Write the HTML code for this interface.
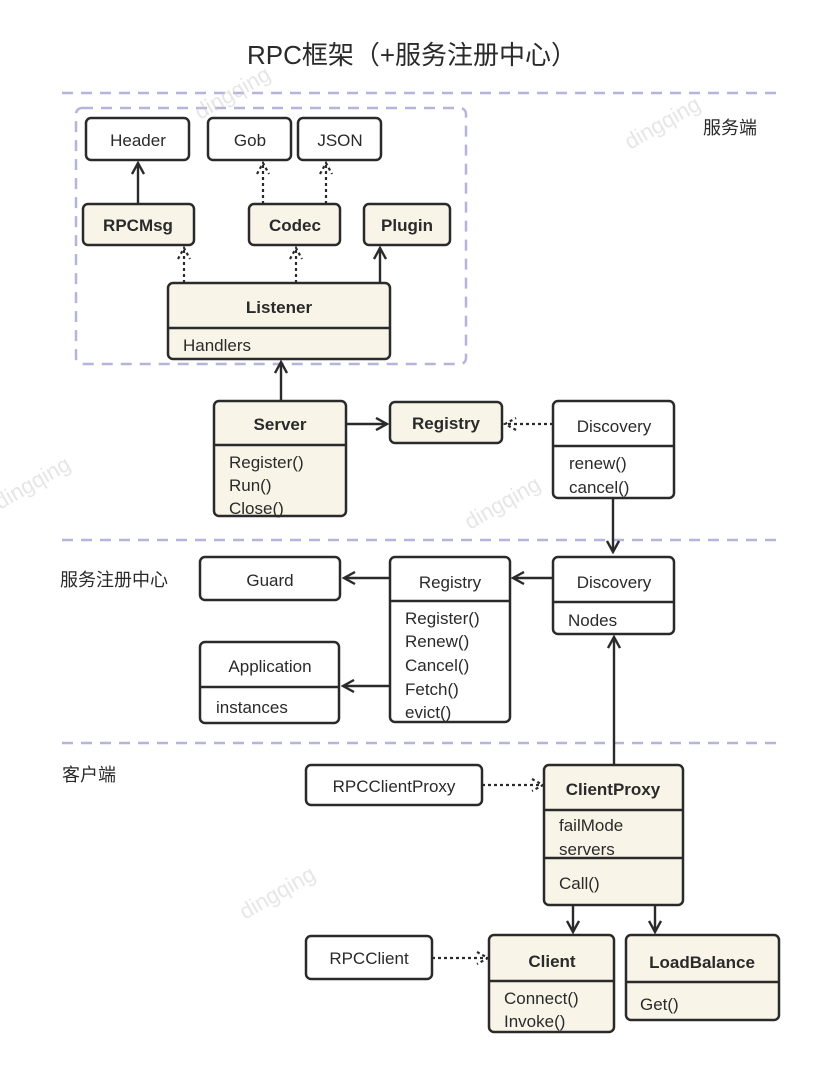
<!DOCTYPE html>
<html><head><meta charset="utf-8"><style>
html,body{margin:0;padding:0;background:#fff;width:824px;height:1071px;overflow:hidden}
svg text{font-family:"Liberation Sans","Noto Sans CJK SC",sans-serif;fill:#2a2a2a}
</style></head><body>
<svg width="824" height="1071" viewBox="0 0 824 1071" xmlns="http://www.w3.org/2000/svg">
<defs>
<marker id="a" markerWidth="14" markerHeight="14" refX="12" refY="7" orient="auto" markerUnits="userSpaceOnUse">
<path d="M1,1 L12,7 L1,13" fill="none" stroke="#2a2a2a" stroke-width="2.4"/></marker>
<marker id="d" markerWidth="14" markerHeight="14" refX="12" refY="7" orient="auto" markerUnits="userSpaceOnUse">
<path d="M1,1 L12,7 L1,13" fill="none" stroke="#2a2a2a" stroke-width="2.2" stroke-dasharray="3,3"/></marker>
</defs>
<text x="412" y="64" font-size="26" text-anchor="middle">RPC框架（+服务注册中心）</text>
<g stroke="#b6b4da" stroke-width="2.5" stroke-dasharray="11,8" fill="none">
<line x1="62" y1="93" x2="780" y2="93"/>
<line x1="62" y1="540" x2="780" y2="540"/>
<line x1="62" y1="743" x2="780" y2="743"/>
<rect x="76" y="108" width="390" height="256" rx="6"/>
</g>
<text x="703" y="134" font-size="18">服务端</text>
<text x="60" y="586" font-size="18">服务注册中心</text>
<text x="62" y="781" font-size="18">客户端</text>
<g stroke="#2a2a2a" stroke-width="2.5">
<rect x="86" y="118" width="103" height="42" rx="5" fill="#fff"/>
<rect x="208" y="118" width="83" height="42" rx="5" fill="#fff"/>
<rect x="298" y="118" width="83" height="42" rx="5" fill="#fff"/>
<rect x="83" y="204" width="111" height="41" rx="5" fill="#f8f5e8"/>
<rect x="249" y="204" width="91" height="41" rx="5" fill="#f8f5e8"/>
<rect x="364" y="204" width="86" height="41" rx="5" fill="#f8f5e8"/>
<rect x="168" y="283" width="222" height="76" rx="5" fill="#f8f5e8"/>
<line x1="168" y1="328" x2="390" y2="328"/>
<rect x="214" y="401" width="132" height="115" rx="5" fill="#f8f5e8"/>
<line x1="214" y1="445" x2="346" y2="445"/>
<rect x="390" y="402" width="112" height="41" rx="5" fill="#f8f5e8"/>
<rect x="553" y="401" width="121" height="97" rx="5" fill="#fff"/>
<line x1="553" y1="446" x2="674" y2="446"/>
<rect x="200" y="557" width="140" height="43" rx="5" fill="#fff"/>
<rect x="390" y="557" width="120" height="165" rx="5" fill="#fff"/>
<line x1="390" y1="601" x2="510" y2="601"/>
<rect x="553" y="557" width="121" height="77" rx="5" fill="#fff"/>
<line x1="553" y1="602" x2="674" y2="602"/>
<rect x="200" y="642" width="139" height="81" rx="5" fill="#fff"/>
<line x1="200" y1="687" x2="339" y2="687"/>
<rect x="306" y="765" width="176" height="40" rx="5" fill="#fff"/>
<rect x="544" y="765" width="139" height="140" rx="5" fill="#f8f5e8"/>
<line x1="544" y1="810" x2="683" y2="810"/>
<line x1="544" y1="858" x2="683" y2="858"/>
<rect x="306" y="936" width="126" height="43" rx="5" fill="#fff"/>
<rect x="489" y="935" width="125" height="97" rx="5" fill="#f8f5e8"/>
<line x1="489" y1="981" x2="614" y2="981"/>
<rect x="626" y="935" width="153" height="85" rx="5" fill="#f8f5e8"/>
<line x1="626" y1="982" x2="779" y2="982"/>
</g>
<g fill="none" stroke="#2a2a2a" stroke-width="2.4">
<line x1="138" y1="204" x2="138" y2="163" marker-end="url(#a)"/>
<line x1="380" y1="283" x2="380" y2="248" marker-end="url(#a)"/>
<line x1="281" y1="401" x2="281" y2="362" marker-end="url(#a)"/>
<line x1="346" y1="424" x2="387" y2="424" marker-end="url(#a)"/>
<path d="M613,498 L613,552" marker-end="url(#a)"/>
<line x1="390" y1="578" x2="344" y2="578" marker-end="url(#a)"/>
<line x1="553" y1="578" x2="513" y2="578" marker-end="url(#a)"/>
<line x1="390" y1="686" x2="343" y2="686" marker-end="url(#a)"/>
<line x1="614" y1="765" x2="614" y2="637" marker-end="url(#a)"/>
<line x1="573" y1="905" x2="573" y2="932" marker-end="url(#a)"/>
<line x1="655" y1="905" x2="655" y2="932" marker-end="url(#a)"/>
</g>
<g fill="none" stroke="#2a2a2a" stroke-width="2.2" stroke-dasharray="3,3">
<line x1="263" y1="204" x2="263" y2="163" marker-end="url(#d)"/>
<line x1="326" y1="204" x2="326" y2="163" marker-end="url(#d)"/>
<line x1="184" y1="283" x2="184" y2="248" marker-end="url(#d)"/>
<line x1="296" y1="283" x2="296" y2="248" marker-end="url(#d)"/>
<line x1="553" y1="424" x2="505" y2="424" marker-end="url(#d)"/>
<line x1="482" y1="785" x2="543" y2="785" marker-end="url(#d)"/>
<line x1="432" y1="958" x2="488" y2="958" marker-end="url(#d)"/>
</g>
<g font-size="17" text-anchor="middle">
<text x="138" y="146">Header</text>
<text x="250" y="146">Gob</text>
<text x="340" y="146">JSON</text>
<text x="138" y="231" font-weight="bold">RPCMsg</text>
<text x="295" y="231" font-weight="bold">Codec</text>
<text x="407" y="231" font-weight="bold">Plugin</text>
<text x="279" y="313" font-weight="bold">Listener</text>
<text x="280" y="430" font-weight="bold">Server</text>
<text x="446" y="429" font-weight="bold">Registry</text>
<text x="614" y="432">Discovery</text>
<text x="270" y="586">Guard</text>
<text x="450" y="588">Registry</text>
<text x="614" y="588">Discovery</text>
<text x="270" y="672">Application</text>
<text x="394" y="792">RPCClientProxy</text>
<text x="613" y="795" font-weight="bold">ClientProxy</text>
<text x="369" y="964">RPCClient</text>
<text x="552" y="967" font-weight="bold">Client</text>
<text x="702" y="968" font-weight="bold">LoadBalance</text>
</g>
<g font-size="17">
<text x="183" y="351">Handlers</text>
<text x="229" y="468">Register()</text>
<text x="229" y="491">Run()</text>
<text x="229" y="514">Close()</text>
<text x="569" y="469">renew()</text>
<text x="569" y="493">cancel()</text>
<text x="405" y="624">Register()</text>
<text x="405" y="647">Renew()</text>
<text x="405" y="671">Cancel()</text>
<text x="405" y="695">Fetch()</text>
<text x="405" y="718">evict()</text>
<text x="568" y="626">Nodes</text>
<text x="216" y="713">instances</text>
<text x="559" y="831">failMode</text>
<text x="559" y="855">servers</text>
<text x="559" y="889">Call()</text>
<text x="504" y="1004">Connect()</text>
<text x="504" y="1027">Invoke()</text>
<text x="640" y="1010">Get()</text>
</g>
<g font-size="22" fill="#ddd" opacity="0.5">
<text x="200" y="120" transform="rotate(-30 200 120)" style="fill:#ccc">dingqing</text>
<text x="630" y="150" transform="rotate(-30 630 150)" style="fill:#ccc">dingqing</text>
<text x="0" y="510" transform="rotate(-30 0 510)" style="fill:#ccc">dingqing</text>
<text x="470" y="530" transform="rotate(-30 470 530)" style="fill:#ccc">dingqing</text>
<text x="245" y="920" transform="rotate(-30 245 920)" style="fill:#ccc">dingqing</text>
</g>
</svg>
</body></html>
